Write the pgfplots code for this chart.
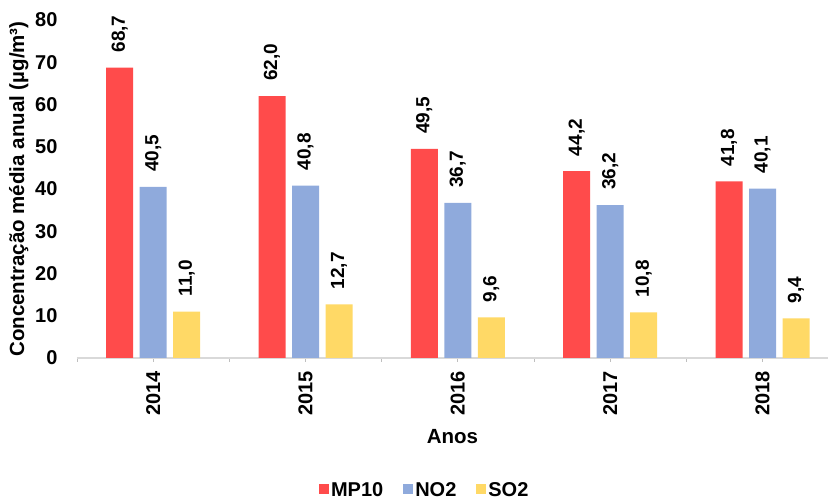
\documentclass[border=0pt]{standalone}
\usepackage{fontspec}
\setmainfont{Liberation Sans}
\usepackage{pgfplots}
\pgfplotsset{compat=1.18}
\definecolor{mpred}{HTML}{FF4B4B}
\definecolor{noblue}{HTML}{8FAADC}
\definecolor{soyel}{HTML}{FFD966}
\newcommand{\tickfont}{\bfseries\fontsize{20}{22}\selectfont}
\newcommand{\labfont}{\bfseries\fontsize{20.5}{22}\selectfont}
\newcommand{\valfont}{\bfseries\fontsize{19}{21}\selectfont}
\begin{document}
\begin{tikzpicture}
\begin{axis}[
    scale only axis,
    width=751pt, height=338pt,
    ybar=6.5pt, bar width=27pt,
    xmin=-0.5, xmax=4.43,
    ymin=0, ymax=80,
    xtick={0,1,2,3,4},
    xticklabels={2014,2015,2016,2017,2018},
    minor xtick={-0.5,0.5,1.5,2.5,3.5},
    ytick={0,10,...,80},
    axis x line=bottom, axis y line=left,
    x axis line style={-, draw=black!15, line width=1.2pt},
    y axis line style={draw=none},
    ytick style={draw=none},
    xtick style={draw=black!25, line width=0.8pt},
    minor x tick style={draw=black!25, line width=0.8pt},
    major tick length=4pt, minor tick length=4pt, tick align=outside,
    /pgf/number format/assume math mode=true,
    tick label style={font=\tickfont},
    yticklabel style={xshift=-12pt},
    xticklabel style={rotate=90, anchor=east, inner sep=0pt, inner xsep=9pt},
    label style={font=\labfont},
    xlabel={Anos},
    xlabel style={at={(axis description cs:0.5,0)}, anchor=center, yshift=-79pt},
    ylabel={Concentração média anual (µg/m³)},
    clip=false,
    nodes near coords={\pgfmathprintnumber[fixed,fixed zerofill,precision=1,use comma,assume math mode=true]{\pgfplotspointmeta}},
    nodes near coords style={font=\valfont, rotate=90, anchor=west, inner ysep=0pt, inner xsep=15pt},
    legend style={at={(0.463,0)}, anchor=center, yshift=-132pt, draw=none, font=\tickfont,
        /tikz/every even column/.append style={column sep=18pt}},
    legend columns=-1,
    legend image code/.code={\fill[#1] (0pt,-4.5pt) rectangle (10pt,5.5pt);},
]
\addplot[fill=mpred, draw=none] coordinates {(0,68.7) (1,62.0) (2,49.5) (3,44.2) (4,41.8)};
\addplot[fill=noblue, draw=none] coordinates {(0,40.5) (1,40.8) (2,36.7) (3,36.2) (4,40.1)};
\addplot[fill=soyel, draw=none] coordinates {(0,11.0) (1,12.7) (2,9.6) (3,10.8) (4,9.4)};
\legend{MP10,NO2,SO2}
\end{axis}
\pgfresetboundingbox
\path[use as bounding box] ([xshift=-77pt,yshift=-144pt]current axis.south west) rectangle ([yshift=20pt]current axis.north east);
\end{tikzpicture}
\end{document}
